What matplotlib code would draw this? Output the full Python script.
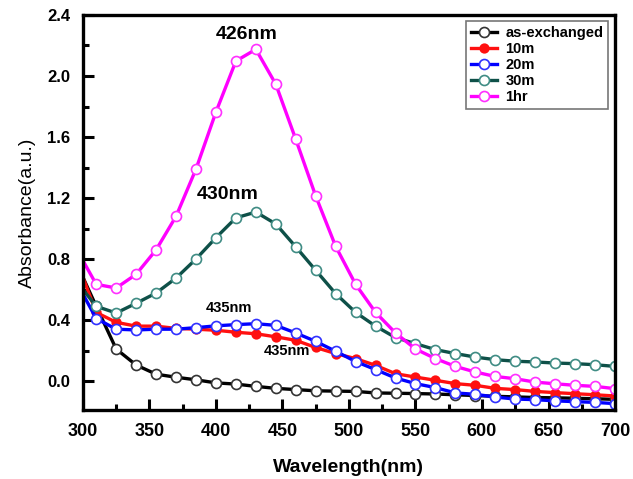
import numpy as np
import matplotlib.pyplot as plt
from matplotlib.ticker import MultipleLocator

plt.rcParams['font.family'] = ['Liberation Sans', 'DejaVu Sans']
plt.rcParams['font.weight'] = 'bold'

# longitud de onda: inicio en 300 (sin marcador) y marcadores cada 15 nm
wavelength = [300] + list(range(310, 701, 15))

as_exchanged = [0.68, 0.49, 0.21, 0.105, 0.045, 0.025, 0.008, -0.012, -0.02, -0.035, -0.048,
                -0.056, -0.064, -0.066, -0.068, -0.078, -0.08, -0.082, -0.085, -0.09, -0.095,
                -0.1, -0.104, -0.108, -0.11, -0.113, -0.116, -0.12]
m10 = [0.68, 0.45, 0.385, 0.36, 0.36, 0.345, 0.34, 0.333, 0.32, 0.31, 0.29, 0.267, 0.22,
       0.18, 0.147, 0.103, 0.048, 0.026, 0.005, -0.017, -0.028, -0.048, -0.056, -0.068,
       -0.076, -0.083, -0.09, -0.098]
m20 = [0.57, 0.41, 0.34, 0.335, 0.34, 0.34, 0.35, 0.362, 0.37, 0.376, 0.365, 0.315, 0.26,
       0.195, 0.128, 0.075, 0.02, -0.017, -0.043, -0.078, -0.087, -0.105, -0.118, -0.122,
       -0.13, -0.135, -0.14, -0.148]
m30 = [0.6, 0.49, 0.446, 0.51, 0.577, 0.675, 0.8, 0.94, 1.07, 1.108, 1.03, 0.88, 0.726,
       0.573, 0.45, 0.36, 0.285, 0.245, 0.206, 0.18, 0.157, 0.14, 0.13, 0.125, 0.118,
       0.114, 0.107, 0.096]
hr1 = [0.79, 0.634, 0.61, 0.70, 0.86, 1.08, 1.39, 1.764, 2.098, 2.175, 1.946, 1.585, 1.213,
       0.883, 0.634, 0.45, 0.315, 0.21, 0.147, 0.096, 0.059, 0.03, 0.015, -0.007, -0.018,
       -0.028, -0.035, -0.05]

labels = ['as-exchanged', '10m', '20m', '30m', '1hr']
line_colors = ['black', '#ff1010', '#0000ff', '#0e5048', '#ff00ff']
edge_colors = ['#333333', '#ff1010', '#3030ff', '#3f8c84', '#ff30ff']
face_colors = ['white', '#ff1010', 'white', 'white', 'white']
marker_sizes = [7.2, 6.2, 7.2, 7.2, 7.2]
series = [as_exchanged, m10, m20, m30, hr1]

fig = plt.figure(figsize=(6.33, 4.79), dpi=100)
ax = fig.add_axes([0.131, 0.144, 0.8406, 0.8247])

for y, lab, lc, ec, fc, ms in zip(series, labels, line_colors, edge_colors, face_colors, marker_sizes):
    ax.plot(wavelength, y, color=lc, lw=2.4, marker='o', ms=ms, mfc=fc, mec=ec,
            mew=1.2, markevery=list(range(1, len(wavelength))), label=lab)

ax.text(423, 2.27, '426nm', ha='center', va='center', fontsize=14, fontweight='bold')
ax.text(409, 1.22, '430nm', ha='center', va='center', fontsize=14, fontweight='bold')
ax.text(410, 0.48, '435nm', ha='center', va='center', fontsize=10.5, fontweight='bold')
ax.text(453, 0.20, '435nm', ha='center', va='center', fontsize=10.5, fontweight='bold')

ax.set_xlim(300, 700)
ax.set_ylim(-0.19, 2.4)
ax.xaxis.set_major_locator(MultipleLocator(50))
ax.xaxis.set_minor_locator(MultipleLocator(25))
ax.yaxis.set_major_locator(MultipleLocator(0.4))
ax.yaxis.set_minor_locator(MultipleLocator(0.2))
ax.yaxis.set_major_formatter(plt.FormatStrFormatter('%.1f'))
ax.tick_params(which='both', direction='in', top=False, right=False, width=2.2)
ax.tick_params(which='major', length=8)
ax.tick_params(which='minor', length=4.5)
ax.tick_params(axis='x', labelsize=13, pad=9)
ax.tick_params(axis='y', labelsize=12, pad=9)
for s in ax.spines.values():
    s.set_linewidth(2.4)

ax.set_xlabel('Wavelength(nm)', fontsize=14, fontweight='bold', labelpad=14)
ax.set_ylabel('Absorbance(a.u.)', fontsize=14, fontweight='normal', labelpad=8)

leg = ax.legend(loc='upper right', fontsize=10.5, frameon=True, fancybox=False,
                edgecolor='#555555', handlelength=1.8, handletextpad=0.6,
                borderpad=0.3, labelspacing=0.15, borderaxespad=0.3,
                bbox_to_anchor=(0.995, 0.995))
leg.get_frame().set_linewidth(1.2)
for t in leg.get_texts():
    t.set_fontweight('bold')

fig.savefig('out.png', dpi=100)
